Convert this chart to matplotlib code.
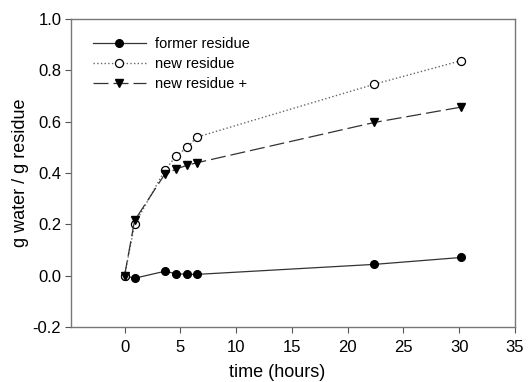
import matplotlib
matplotlib.use('Agg')
import matplotlib.pyplot as plt

plt.rcParams['font.family'] = ['Liberation Sans', 'DejaVu Sans']

hours = [0, 0.9, 3.6, 4.6, 5.6, 6.5, 22.4, 30.2]
former = [0.0, -0.01, 0.017, 0.008, 0.005, 0.005, 0.044, 0.071]
new = [0.0, 0.2, 0.41, 0.465, 0.5, 0.54, 0.746, 0.838]
new_plus = [0.0, 0.215, 0.395, 0.415, 0.43, 0.44, 0.597, 0.657]

fig = plt.figure(figsize=(5.28, 3.82), dpi=100)
ax = fig.add_axes([71/528, 1-327/382, (515-71)/528, (327-19)/382])

ax.plot(hours, former, '-', color='#333333', lw=0.9, marker='o', ms=5.5,
        mfc='black', mec='black', label='former residue')
ax.plot(hours, new, ':', color='#666666', lw=1.0, marker='o', ms=5.8,
        mfc='white', mec='black', mew=0.9, label='new residue')
ax.plot(hours, new_plus, '--', color='#333333', lw=0.9, dashes=(12, 4), marker='v', ms=5.8,
        mfc='black', mec='black', label='new residue +')

ax.set_xlim(-4.8, 35)
ax.set_ylim(-0.2, 1.0)
ax.set_xticks([0, 5, 10, 15, 20, 25, 30, 35])
ax.set_yticks([-0.2, 0.0, 0.2, 0.4, 0.6, 0.8, 1.0])
ax.set_yticklabels(['-0.2', '0.0', '0.2', '0.4', '0.6', '0.8', '1.0'])
ax.tick_params(direction='out', length=4, pad=5, labelsize=12, colors='#555555', labelcolor='black')
ax.tick_params(axis='y', pad=3)
for s in ax.spines.values():
    s.set_color('#777777')
    s.set_linewidth(1.0)

ax.set_xlabel('time (hours)', fontsize=13)
ax.set_ylabel('g water / g residue', fontsize=13)
ax.xaxis.set_label_coords(0.464, -0.12)
ax.yaxis.set_label_coords(-0.095, 0.5)

ax.legend(loc='upper left', frameon=False, fontsize=10.5, handlelength=3.6,
          bbox_to_anchor=(0.02, 0.985), labelspacing=0.42, handletextpad=0.65)

fig.savefig('out.png', dpi=100)
